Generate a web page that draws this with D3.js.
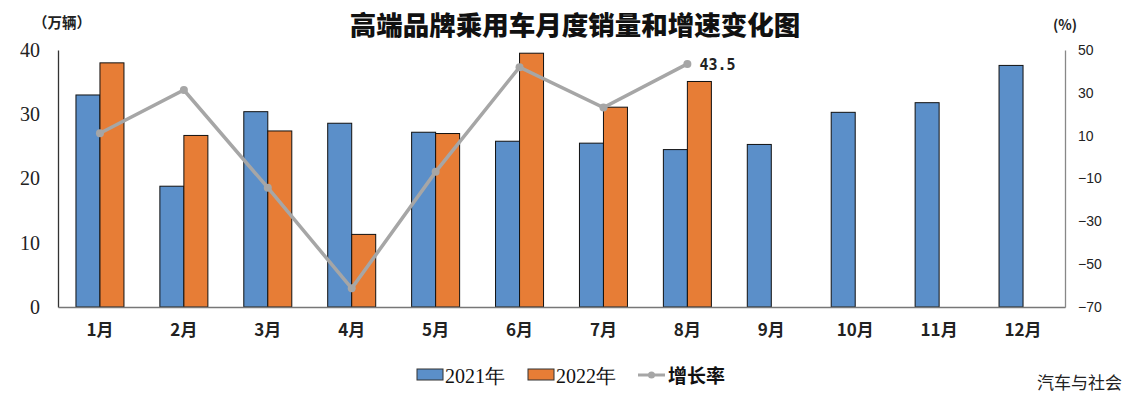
<!DOCTYPE html>
<html><head><meta charset="utf-8">
<script src="https://cdn.jsdelivr.net/npm/d3@7"></script>
<style>body{margin:0;background:#fff}svg{display:block}</style>
</head><body><svg id="c" width="1138" height="397"></svg>
<script>
const months = ["1月","2月","3月","4月","5月","6月","7月","8月","9月","10月","11月","12月"];
const sales2021 = [33.0,18.8,30.4,28.6,27.2,25.8,25.5,24.5,25.3,30.3,31.8,37.6];
const sales2022 = [38.0,26.7,27.4,11.3,27.0,39.5,31.1,35.1,null,null,null,null];
const growth = [11.1,31.3,-14.3,-61.3,-6.9,42.0,23.1,43.5];
const leftTicks = [0,10,20,30,40];
const rightTicks = [50,30,10,-10,-30,-50,-70];
const seriesNames = ["2021年","2022年","增长率"];
const colors = {b:"#5B8FC9", o:"#E77D36", g:"#A6A6A6"};

const svg = d3.select("#c");
const L=58, R=1065, T=50, B=307;
const x = d3.scaleBand().domain(months).range([L,R]).paddingInner(0.428).paddingOuter(0.214);
const x1 = d3.scaleBand().domain([0,1]).range([0,x.bandwidth()]);
const y = d3.scaleLinear().domain([0,40]).range([B,T]);
const y2 = d3.scaleLinear().domain([-70,50]).range([B,T]);
const serif = "'Liberation Serif','DejaVu Serif',serif";
const cjk = "'Noto Sans CJK SC',sans-serif";

// title
svg.append("text").attr("x",575).attr("y",35).attr("text-anchor","middle")
  .attr("font-family",cjk).attr("font-weight",900).attr("font-size",26.5).attr("fill","#111")
  .text("高端品牌乘用车月度销量和增速变化图");
svg.append("text").attr("x",33).attr("y",28).attr("font-family",cjk).attr("font-weight",700)
  .attr("font-size",14.5).attr("fill","#222").text("（万辆）");
svg.append("text").attr("x",1053).attr("y",30).attr("font-family",cjk).attr("font-weight",700)
  .attr("font-size",14).attr("fill","#222").text("(%)");

// bars
const g = svg.append("g");
months.forEach((m,i)=>{
  [sales2021[i],sales2022[i]].forEach((v,j)=>{
    if(v==null) return;
    g.append("rect").attr("x",x(m)+x1(j)).attr("y",y(v)).attr("width",x1.bandwidth())
     .attr("height",B-y(v)).attr("fill",j?colors.o:colors.b).attr("stroke","#111").attr("stroke-width",1);
  });
});

// axes
const ax = svg.append("g").attr("transform",`translate(${L},0)`)
  .call(d3.axisLeft(y).tickValues(leftTicks).tickSize(0).tickPadding(18));
ax.select(".domain").attr("stroke","#333").attr("stroke-width",1.3);
ax.selectAll("text").attr("font-family",serif).attr("font-size",20).attr("fill","#222");
const ax2 = svg.append("g").attr("transform",`translate(${R},0)`)
  .call(d3.axisRight(y2).tickValues(rightTicks).tickSize(0).tickPadding(13).tickFormat(d=>d<0?"\u2212"+(-d):d));
ax2.select(".domain").attr("stroke","#888").attr("stroke-width",1.3);
ax2.selectAll("text").attr("font-family","'Liberation Sans','Arial',sans-serif").attr("font-size",14).attr("fill","#222");
const axb = svg.append("g").attr("transform",`translate(0,${B})`)
  .call(d3.axisBottom(x).tickSize(0).tickPadding(17));
axb.select(".domain").attr("stroke","#777").attr("stroke-width",1.5);
axb.selectAll("text").attr("font-family",cjk).attr("font-weight",700).attr("font-size",17).attr("fill","#222");

// growth line
const pts = growth.map((v,i)=>[x(months[i])+x.bandwidth()/2, y2(v)]);
svg.append("path").attr("d",d3.line()(pts)).attr("fill","none").attr("stroke",colors.g).attr("stroke-width",3.5);
svg.selectAll(".dot").data(pts).join("circle").attr("cx",d=>d[0]).attr("cy",d=>d[1]).attr("r",4).attr("fill",colors.g);
svg.append("text").attr("x",pts[7][0]+12).attr("y",pts[7][1]+6).attr("font-family","'DejaVu Sans Mono','Liberation Mono',monospace")
  .attr("font-weight",700).attr("font-size",15).attr("fill","#222").text(growth[7].toFixed(1));

// legend
const lg = svg.append("g").attr("font-family",cjk).attr("font-size",19).attr("fill","#111");
[[417,colors.b,seriesNames[0]],[528,colors.o,seriesNames[1]]].forEach(([lx,c,t])=>{
  lg.append("rect").attr("x",lx).attr("y",369).attr("width",26).attr("height",11).attr("fill",c).attr("stroke","#333");
  lg.append("text").attr("x",lx+28).attr("y",383).attr("font-family",serif).attr("font-size",20).text(t);
});
lg.append("line").attr("x1",638).attr("x2",665).attr("y1",375).attr("y2",375).attr("stroke",colors.g).attr("stroke-width",3);
lg.append("circle").attr("cx",651.5).attr("cy",375).attr("r",3.5).attr("fill",colors.g);
lg.append("text").attr("x",668).attr("y",383).attr("font-weight",700).text(seriesNames[2]);

svg.append("text").attr("x",1122).attr("y",389).attr("text-anchor","end").attr("font-family",cjk)
  .attr("font-size",17).attr("fill","#222").text("汽车与社会");
</script></body></html>
